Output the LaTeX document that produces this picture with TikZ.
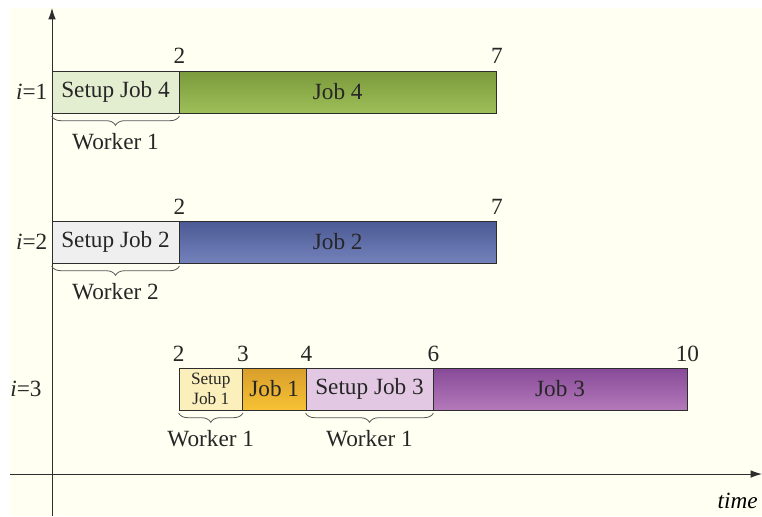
\documentclass[tikz,border=0pt]{standalone}
\usepackage{fontspec}
\setmainfont{Liberation Serif}
\usepackage{xcolor}
\definecolor{paper}{RGB}{255,255,242}
\definecolor{edgegray}{RGB}{45,45,45}
\definecolor{setupgreen}{RGB}{227,237,207}
\definecolor{jobgreentop}{RGB}{123,154,60}
\definecolor{jobgreenbot}{RGB}{157,191,88}
\definecolor{setupgray}{RGB}{239,239,239}
\definecolor{jobbluetop}{RGB}{75,90,148}
\definecolor{jobbluebot}{RGB}{116,130,188}
\definecolor{setupyellow}{RGB}{251,239,188}
\definecolor{joborangetop}{RGB}{217,158,44}
\definecolor{joborangebot}{RGB}{247,194,52}
\definecolor{setuppurple}{RGB}{227,200,227}
\definecolor{jobpurpletop}{RGB}{135,74,152}
\definecolor{jobpurplebot}{RGB}{180,121,186}
\usepackage{tikz}
\usetikzlibrary{
    arrows.meta,
    positioning,
    decorations.pathreplacing
}
\newlength{\tunit}
\setlength{\tunit}{1.68cm}
\tikzstyle{bar} = [
    rectangle,
    draw=edgegray,
    line width=0.6pt,
    minimum height=1.11cm,
    inner sep=0pt,
    text=black!85,
    align=center,
    font=\fontsize{17.5}{21}\selectfont
]
\tikzstyle{tick} = [
    anchor=base,
    yshift=5pt,
    inner sep=0pt,
    text=black!85,
    font=\fontsize{17.5}{21}\selectfont
]
\tikzstyle{rowlabel} = [
    inner sep=0pt,
    text=black!85,
    font=\fontsize{17.5}{21}\selectfont
]
\tikzstyle{worker} = [
    inner sep=0pt,
    text=black!85,
    font=\fontsize{17.5}{21}\selectfont
]
\tikzstyle{brace} = [
    decorate,
    decoration={brace, mirror, amplitude=7pt},
    draw=edgegray!80,
    line width=0.6pt
]
\tikzstyle{axis} = [
    draw=edgegray,
    line width=0.7pt,
    -{Latex[length=3mm, width=2mm]}
]

\begin{document}
\begin{tikzpicture}[x=\tunit, y=1cm]
    % Canvas and background
    \useasboundingbox (-0.819,-1.111) rectangle (11.181,12.541);
    \fill[paper] (-0.661,-1.111) rectangle (11.181,12.329);

    % Axes
    \coordinate (ybottom) at (0,-1.111);
    \coordinate (ytop) at (0,12.33);
    \coordinate (xleft) at (-0.661,0);
    \coordinate (xright) at (11.181,0);
    \draw[axis] (ybottom) -- (ytop);
    \draw[axis] (xleft) -- (xright);
    \node[anchor=base east, inner sep=0pt, font=\fontsize{17.5}{21}\selectfont\itshape] (timelabel) at (11.118,-0.9) {time};

    % Row i=1
    \node[bar, fill=setupgreen, minimum width=2*\tunit] (setup4) at (1,10.107) {Setup Job 4};
    \node[bar, top color=jobgreentop, bottom color=jobgreenbot, minimum width=5*\tunit] (job4) at (4.5,10.107) {Job 4};
    \node[rowlabel, left=3pt of setup4] (row1) {\textit{i}=1};
    \node[tick] (t41) at (setup4.north east) {2};
    \node[tick] (t42) at (job4.north east) {7};
    \draw[brace] ([yshift=-2pt]setup4.south west) -- ([yshift=-2pt]setup4.south east);
    \node[worker, below=15pt of setup4] (w4) {Worker 1};

    % Row i=2
    \node[bar, fill=setupgray, minimum width=2*\tunit] (setup2) at (1,6.138) {Setup Job 2};
    \node[bar, top color=jobbluetop, bottom color=jobbluebot, minimum width=5*\tunit] (job2) at (4.5,6.138) {Job 2};
    \node[rowlabel, left=3pt of setup2] (row2) {\textit{i}=2};
    \node[tick] (t21) at (setup2.north east) {2};
    \node[tick] (t22) at (job2.north east) {7};
    \draw[brace] ([yshift=-2pt]setup2.south west) -- ([yshift=-2pt]setup2.south east);
    \node[worker, below=15pt of setup2] (w2) {Worker 2};

    % Row i=3
    \node[bar, fill=setupyellow, minimum width=1*\tunit, font=\fontsize{13}{15}\selectfont] (setup1) at (2.5,2.249) {Setup\\Job 1};
    \node[bar, top color=joborangetop, bottom color=joborangebot, minimum width=1*\tunit] (job1) at (3.5,2.249) {Job 1};
    \node[bar, fill=setuppurple, minimum width=2*\tunit] (setup3) at (5,2.249) {Setup Job 3};
    \node[bar, top color=jobpurpletop, bottom color=jobpurplebot, minimum width=4*\tunit] (job3) at (8,2.249) {Job 3};
    \node[rowlabel] (row3) at (-0.41,2.249) {\textit{i}=3};
    \node[tick] (t31) at (setup1.north west) {2};
    \node[tick] (t32) at (setup1.north east) {3};
    \node[tick] (t33) at (job1.north east) {4};
    \node[tick] (t34) at (setup3.north east) {6};
    \node[tick] (t35) at (job3.north east) {10};
    \draw[brace] ([yshift=-2pt]setup1.south west) -- ([yshift=-2pt]setup1.south east);
    \draw[brace] ([yshift=-2pt]setup3.south west) -- ([yshift=-2pt]setup3.south east);
    \node[worker, below=15pt of setup1] (w1) {Worker 1};
    \node[worker, below=15pt of setup3] (w3) {Worker 1};

\end{tikzpicture}
\end{document}
